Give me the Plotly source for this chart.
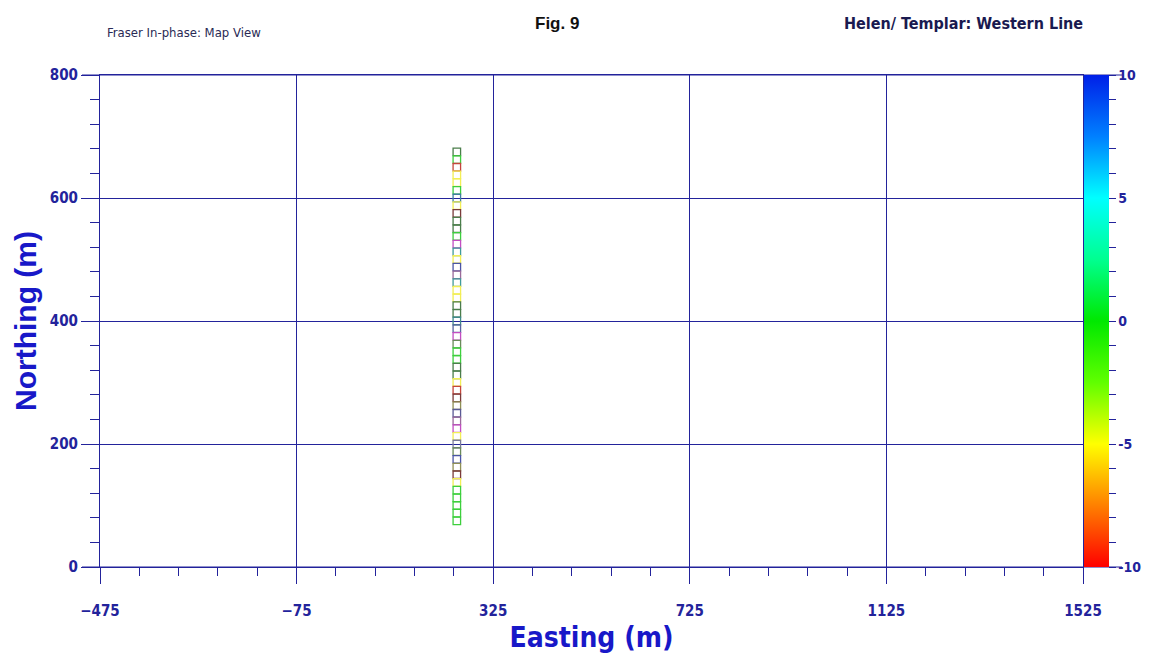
import plotly.graph_objects as go

# ---- data ----
easting = [251, 251, 251, 251, 251, 251, 251, 251, 251, 251,
           251, 251, 251, 251, 251, 251, 251, 251, 251, 251,
           251, 251, 251, 251, 251, 251, 251, 251, 251, 251,
           251, 251, 251, 251, 251, 251, 251, 251, 251, 251,
           251, 251, 251, 251, 251, 251, 251, 251, 251]
northing = [675, 662.5, 650, 637.5, 625, 612.5, 600, 587.5, 575, 562.5,
            550, 537.5, 525, 512.5, 500, 487.5, 475, 462.5, 450, 437.5,
            425, 412.5, 400, 387.5, 375, 362.5, 350, 337.5, 325, 312.5,
            300, 287.5, 275, 262.5, 250, 237.5, 225, 212.5, 200, 187.5,
            175, 162.5, 150, 137.5, 125, 112.5, 100, 87.5, 75]
station_colors = ["#4a7d4a", "#3dcf3d", "#c4463c", "#f2ee55", "#f2ee55",
                  "#3dcf3d", "#3f7fa0", "#f2ee55", "#7a3a3a", "#4a7d4a",
                  "#4a7d4a", "#3dcf3d", "#c24ec2", "#3f9a9a", "#f2ee55",
                  "#4a55a5", "#9a6a9a", "#3f9a9a", "#f2ee55", "#f2ee55",
                  "#4a7d4a", "#4a7d4a", "#3f8a8a", "#5a65a0", "#c24ec2",
                  "#6a8a5a", "#3dcf3d", "#3dcf3d", "#4a7d4a", "#4a7d4a",
                  "#f2ee55", "#c4463c", "#7a3a3a", "#8f8f55", "#5a5a95",
                  "#9a6a9a", "#c24ec2", "#f2ee55", "#7a7a9a", "#6a8a5a",
                  "#4a55a5", "#8f8f55", "#7a3a3a", "#f2ee55", "#3dcf3d",
                  "#3dcf3d", "#3dcf3d", "#3dcf3d", "#3dcf3d"]

x_ticks = [-475, -75, 325, 725, 1125, 1525]
y_ticks = [0, 200, 400, 600, 800]
cbar_min, cbar_max = -10, 10
cbar_ticks = [-10, -9, -8, -7, -6, -5, -4, -3, -2, -1, 0,
              1, 2, 3, 4, 5, 6, 7, 8, 9, 10]
cbar_labels = ["-10", "", "", "", "", "-5", "", "", "", "", "0",
               "", "", "", "", "5", "", "", "", "", "10"]

NAVY = "#23239b"
BLUE = "#1818c8"
NARROW = "Liberation Sans Narrow, DejaVu Sans Condensed, Arial Narrow, Roboto Condensed, sans-serif"

colorscale = [
    [0.0, "#ff0000"], [0.125, "#ff8000"], [0.25, "#ffff00"],
    [0.375, "#60ff00"], [0.5, "#00e800"], [0.625, "#00ff90"],
    [0.75, "#00ffff"], [0.875, "#0080ff"], [1.0, "#0020e8"],
]

fig = go.Figure()

fig.add_trace(go.Scatter(
    x=easting, y=northing, mode="markers",
    marker=dict(symbol="square-open", size=7.5, color=station_colors,
                line=dict(width=1.3)),
    showlegend=False, hoverinfo="x+y",
))

# colour bar carrier
fig.add_trace(go.Scatter(
    x=[easting[0]], y=[northing[0]], mode="markers",
    marker=dict(size=0.1, opacity=0, color=[0], cmin=cbar_min, cmax=cbar_max,
                colorscale=colorscale, showscale=True,
                colorbar=dict(x=1.0, xanchor="left", xpad=1, y=0.5, yanchor="middle",
                              len=1, lenmode="fraction", ypad=0, thickness=25,
                              outlinewidth=0, ticks="outside", ticklen=7,
                              tickcolor=NAVY, tickwidth=1,
                              tickmode="array", tickvals=cbar_ticks, ticktext=cbar_labels,
                              tickfont=dict(family=NARROW, size=14, color=NAVY,
                                            weight="bold"))),
    showlegend=False, hoverinfo="skip",
))

fig.update_xaxes(
    range=[x_ticks[0], x_ticks[-1]], tickmode="array", tickvals=x_ticks,
    showgrid=True, gridcolor=NAVY, gridwidth=1,
    showline=True, linecolor=NAVY, linewidth=1, mirror=True,
    ticks="outside", ticklen=16, tickcolor=NAVY, tickwidth=1,
    ticklabelstandoff=14,
    minor=dict(tick0=-475, dtick=80, ticks="outside", ticklen=8,
               tickcolor=NAVY, showgrid=False),
    tickfont=dict(family=NARROW, size=15, color=NAVY, weight="bold"),
    title=dict(text="Easting (m)", standoff=8,
               font=dict(family=NARROW, size=28, color=BLUE, weight="bold")),
    zeroline=False, automargin=False,
)
fig.update_yaxes(
    range=[y_ticks[0], y_ticks[-1]], tickmode="array", tickvals=y_ticks,
    showgrid=True, gridcolor=NAVY, gridwidth=1,
    showline=True, linecolor=NAVY, linewidth=1, mirror=True,
    ticks="outside", ticklen=18, tickcolor=NAVY, tickwidth=1,
    minor=dict(tick0=0, dtick=40, ticks="outside", ticklen=9,
               tickcolor=NAVY, showgrid=False),
    tickfont=dict(family=NARROW, size=15, color=NAVY, weight="bold"),
    title=dict(text="Northing (m)", standoff=4,
               font=dict(family="Liberation Sans, Arial, sans-serif", size=30,
                         color=BLUE, weight="bold")),
    zeroline=False, automargin=False,
)

# axis lines extended beyond the frame, as in the reference
for yy in (0, 1):
    fig.add_shape(type="line", xref="paper", yref="paper",
                  x0=-0.0183, x1=1.0397, y0=yy, y1=yy,
                  line=dict(color=NAVY, width=1))

fig.add_annotation(text="Fraser In-phase: Map View", xref="paper", yref="paper",
                   x=0.005, y=1.0 + 42 / 492, xanchor="left", yanchor="middle",
                   showarrow=False,
                   font=dict(family=NARROW, size=13, color="#2a2a55"))
fig.add_annotation(text="<b>Fig. 9</b>", xref="paper", yref="paper",
                   x=(557 - 100) / 983, y=1.0 + 51 / 492, xanchor="center",
                   yanchor="middle", showarrow=False,
                   font=dict(family="Liberation Sans, Arial, sans-serif", size=17,
                             color="#111111"))
fig.add_annotation(text="Helen/ Templar: Western Line", xref="paper", yref="paper",
                   x=(1085 - 100) / 983, y=1.0 + 51 / 492, xanchor="right",
                   yanchor="middle", showarrow=False,
                   font=dict(family=NARROW, size=16, color="#1a1a50", weight="bold"))

# the page adds an 8 px body margin, so the figure is 8 px smaller
fig.update_layout(
    width=1143, height=660,
    margin=dict(l=92, r=68, t=67, b=101, autoexpand=False),
    plot_bgcolor="white", paper_bgcolor="white",
)

fig.write_html("out.html")
